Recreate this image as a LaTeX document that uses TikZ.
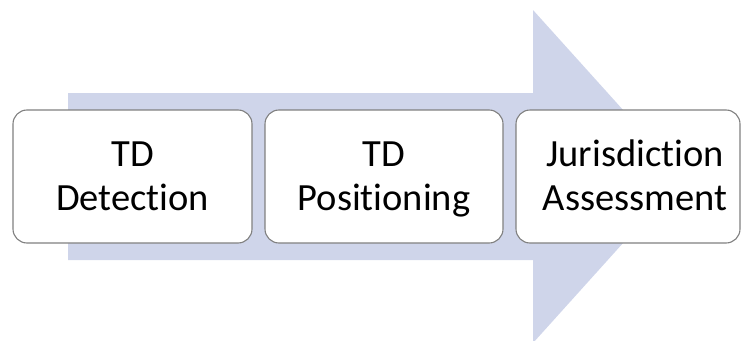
\documentclass[tikz,border=0pt]{standalone}
\usepackage{fontspec}
\setmainfont{Carlito}[Ligatures=NoCommon]
\definecolor{arrowblue}{RGB}{207,213,234}
\definecolor{boxline}{RGB}{128,128,128}
\begin{document}
\begin{tikzpicture}[x=1pt,y=-1pt,
  stepbox/.style={draw=boxline, line width=1.1pt, fill=white, rounded corners=14pt,
    inner sep=0pt, text height=24.5pt, text depth=44pt,
    font=\fontsize{38.5}{44}\selectfont}]
\useasboundingbox (0,0) rectangle (741,340);
\clip (0,0) rectangle (741,340);
\fill[arrowblue] (68,93) -- (533,93) -- (533,10) -- (683,176.5) -- (533,343) -- (533,260) -- (68,260) -- cycle;
\node[stepbox, minimum width=239pt, minimum height=133pt] (b1) at (132.5,176.5)
  {\begin{tabular}[t]{@{}c@{}}TD\\Detection\end{tabular}};
\node[stepbox, minimum width=238pt, minimum height=133pt] (b2) at (384,176.5)
  {\begin{tabular}[t]{@{}c@{}}TD\\Positioning\end{tabular}};
\node[stepbox, minimum width=224pt, minimum height=133pt] (b3) at (628,176.5)
  {\begin{tabular}[t]{@{\hspace{14pt}}c@{}}Jurisdiction\\Assessment\end{tabular}};
\end{tikzpicture}
\end{document}
